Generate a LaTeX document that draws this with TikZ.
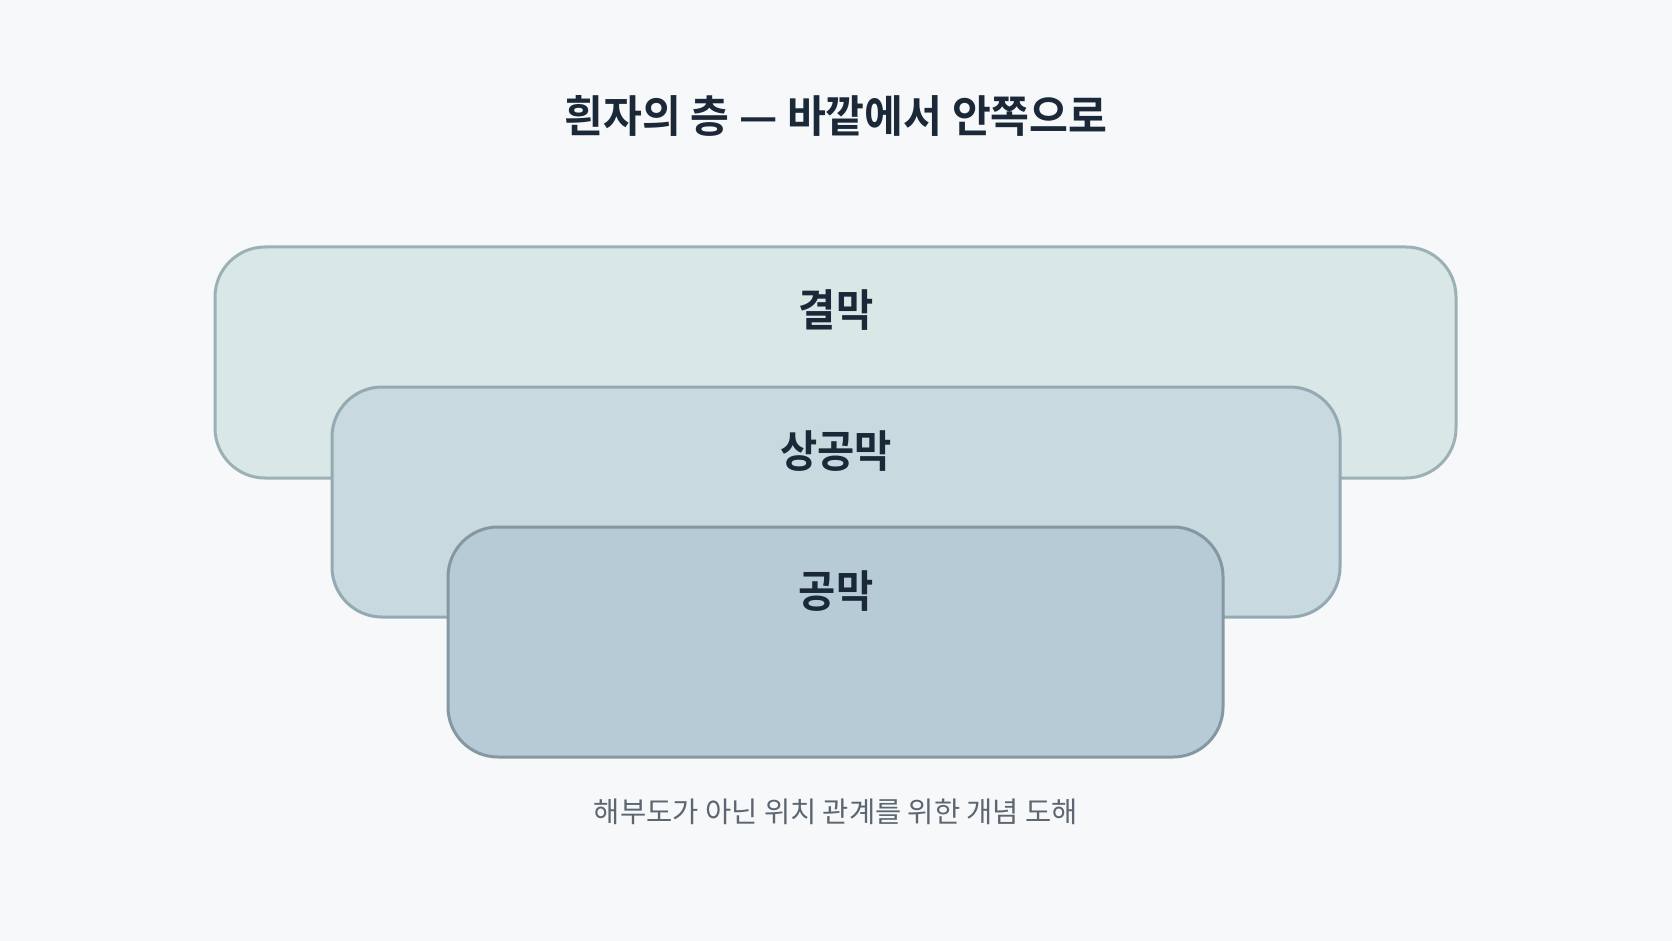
\documentclass[tikz,border=0pt]{standalone}
\usepackage{fontspec}
\newfontfamily\krtitle[FakeStretch=0.96]{Noto Sans CJK KR Bold}
\newfontfamily\krbold[FakeStretch=0.92]{Noto Sans CJK KR Bold}
\newfontfamily\krreg{Noto Sans CJK KR}
\definecolor{bgc}{HTML}{F6F8FA}
\definecolor{fillA}{HTML}{DAE7E7}
\definecolor{lineA}{HTML}{9BB1B5}
\definecolor{fillB}{HTML}{C8D9DF}
\definecolor{lineB}{HTML}{94AAB2}
\definecolor{fillC}{HTML}{B7CBD6}
\definecolor{lineC}{HTML}{8398A2}
\definecolor{inkc}{HTML}{1B2838}
\definecolor{notec}{HTML}{5B6670}
\tikzset{
  layerbox/.style={draw, line width=3pt, rounded corners=50pt, inner sep=0pt},
  layertext/.style={text=inkc, font=\krbold\fontsize{44}{52}\selectfont, inner sep=0pt, anchor=center},
}
\begin{document}
\begin{tikzpicture}[x=1pt,y=-1pt]
\path[fill=bgc] (0,0) rectangle (1672,941);
\useasboundingbox (0,0) rectangle (1672,941);
\node[text=inkc, font=\krtitle\fontsize{44}{52}\selectfont, inner sep=0pt] (title) at (836,116) {흰자의 층 — 바깥에서 안쪽으로};
\node[layerbox, fill=fillA, draw=lineA, minimum width=1241pt, minimum height=231pt] (outer) at (835.5,362.5) {};
\node[layerbox, fill=fillB, draw=lineB, minimum width=1008pt, minimum height=230pt] (middle) at (836,502) {};
\node[layerbox, fill=fillC, draw=lineC, minimum width=775pt, minimum height=230pt] (inner) at (835.5,642) {};
\node[layertext] (outerlabel) at (836,310) {결막};
\node[layertext] (middlelabel) at (836,451) {상공막};
\node[layertext] (innerlabel) at (836,591) {공막};
\node[text=notec, font=\krreg\fontsize{28.5}{34}\selectfont, inner sep=0pt] (note) at (836,812) {해부도가 아닌 위치 관계를 위한 개념 도해};
\end{tikzpicture}
\end{document}
